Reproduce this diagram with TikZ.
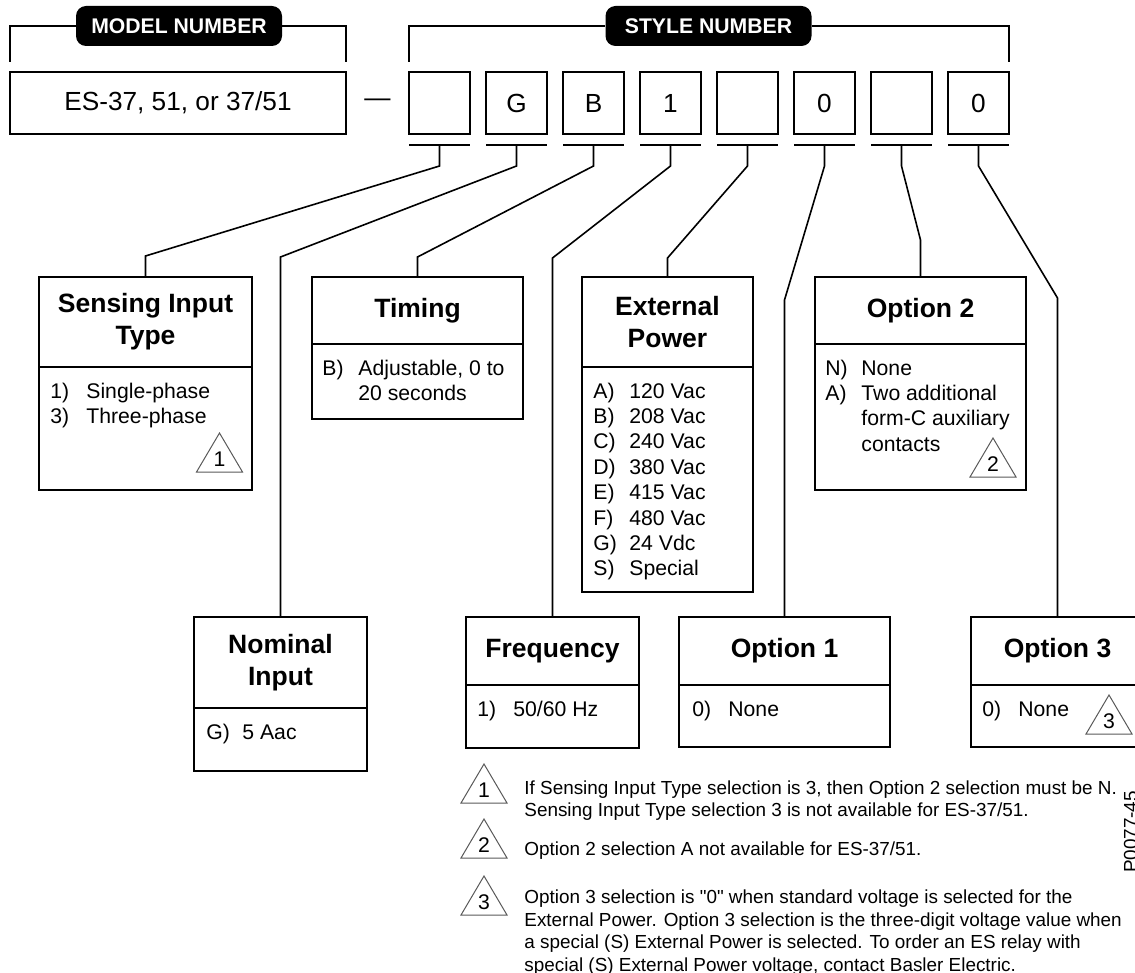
\documentclass[tikz,border=0pt]{standalone}
\usepackage{fontspec}
\setmainfont{Liberation Sans}
\newfontfamily\rawsans{Liberation Sans}[Ligatures=TeXOff]
\usetikzlibrary{positioning}

\newcommand{\ttlfont}{\fontsize{13.25pt}{16pt}\selectfont\bfseries}
\newcommand{\itmfont}{\fontsize{10.6pt}{12.7pt}\selectfont}
\newcommand{\digfont}{\fontsize{13.1pt}{15pt}\selectfont}
\newcommand{\pilfont}{\fontsize{10.6pt}{12pt}\selectfont\bfseries}
\newcommand{\notfont}{\fontsize{9.45pt}{11.25pt}\selectfont}
\newcommand{\items}[1]{\begin{tabular}[t]{@{}p{18pt}@{}l@{}}#1\end{tabular}}
\newcommand{\sq}{{\rawsans"}}

\tikzset{
  warn/.pic={
    \draw[line width=0.5pt, black!65] (-11.5pt,0) -- (0,19.5pt) -- (11.5pt,0) -- cycle;
    \node[font=\itmfont, inner sep=0] at (0,6.5pt) {#1};
  }
}

\begin{document}
\begin{tikzpicture}[x=0.5pt, y=-0.5pt,
  pill/.style={fill=black, text=white, rounded corners=5pt, minimum width=103pt, minimum height=20pt, font=\pilfont},
  numbox/.style={draw, line width=0.9pt, minimum width=168pt, minimum height=31pt, font=\digfont, outer sep=0},
  digit/.style={draw, line width=0.9pt, minimum width=30.5pt, minimum height=31pt, font=\digfont, outer sep=0},
  ttl/.style={draw, line width=0.9pt, align=center, font=\ttlfont, outer sep=0, anchor=north},
  bdy/.style={draw, line width=0.9pt, outer sep=0, anchor=north},
  lst/.style={anchor=base west, inner sep=0, font=\itmfont},
  wire/.style={line width=0.8pt},
  bar/.style={line width=1.1pt},
  note/.style={font=\notfont, align=left, inner sep=0, anchor=west}
]
\useasboundingbox (0,0) rectangle (1135,973);

% model number and style number boxes
\node[numbox] (model) at (178,103) {ES-37, 51, or 37/51};
\node[font=\digfont] (dash) at (377.5,103) {—};
\foreach \d [count=\k] in {{},G,B,1,{},0,{},0} {
  \node[digit] (c\k) at ({439.5+77*(\k-1)},103) {\d};
  \draw[bar] ([yshift=-5.5pt]c\k.south west) -- ([yshift=-5.5pt]c\k.south east);
}

% brackets
\node[pill] (mpill) at (179,26) {MODEL NUMBER};
\node[pill] (spill) at (708.5,26) {STYLE NUMBER};
\draw[wire] ([yshift=5pt]model.north west) |- (mpill);
\draw[wire] ([yshift=5pt]model.north east) |- (mpill);
\draw[wire] ([yshift=5pt]c1.north west) |- (spill);
\draw[wire] ([yshift=5pt]c8.north east) |- (spill);

% upper row
\node[ttl, minimum width=106.5pt, minimum height=45pt] (sens) at (145.5,277) {Sensing Input\\Type};
\node[bdy, minimum width=106.5pt, minimum height=61.5pt] (sensb) at (sens.south) {};
\node[lst] at ([shift={(5.5pt,-15.5pt)}]sensb.north west) {\items{1)&Single-phase\\3)&Three-phase}};

\node[ttl, minimum width=105.5pt, minimum height=33.5pt] (timg) at (417.5,277) {Timing};
\node[bdy, minimum width=105.5pt, minimum height=37.5pt] (timgb) at (timg.south) {};
\node[lst] at ([shift={(5pt,-15.5pt)}]timgb.north west) {\items{B)&Adjustable, 0 to\\&20 seconds}};

\node[ttl, minimum width=85.5pt, minimum height=45pt] (extp) at (667.5,277) {External\\Power};
\node[bdy, minimum width=85.5pt, minimum height=112.5pt] (extpb) at (extp.south) {};
\node[lst] at ([shift={(5.5pt,-15.5pt)}]extpb.north west) {\items{A)&120 Vac\\B)&208 Vac\\C)&240 Vac\\D)&380 Vac\\E)&415 Vac\\F)&480 Vac\\G)&24 Vdc\\S)&Special}};

\node[ttl, minimum width=105.5pt, minimum height=33.5pt] (opt2) at (920.5,277) {Option 2};
\node[bdy, minimum width=105.5pt, minimum height=73pt] (opt2b) at (opt2.south) {};
\node[lst] at ([shift={(5pt,-15.5pt)}]opt2b.north west) {\items{N)&None\\A)&Two additional\\&form-C auxiliary\\&contacts}};

% lower row
\node[ttl, minimum width=86.5pt, minimum height=45.5pt] (nomi) at (280.5,617) {Nominal\\Input};
\node[bdy, minimum width=86.5pt, minimum height=31.5pt] (nomib) at (nomi.south) {};
\node[lst] at ([shift={(6pt,-15.5pt)}]nomib.north west) {\items{G)&5 Aac}};

\node[ttl, minimum width=86.5pt, minimum height=34pt] (freq) at (552.5,617) {Frequency};
\node[bdy, minimum width=86.5pt, minimum height=31.5pt] (freqb) at (freq.south) {};
\node[lst] at ([shift={(5.5pt,-15.5pt)}]freqb.north west) {\items{1)&50/60 Hz}};

\node[ttl, minimum width=105.5pt, minimum height=34pt] (opt1) at (784.5,617) {Option 1};
\node[bdy, minimum width=105.5pt, minimum height=31pt] (opt1b) at (opt1.south) {};
\node[lst] at ([shift={(6.5pt,-15.5pt)}]opt1b.north west) {\items{0)&None}};

\node[ttl, minimum width=86.5pt, minimum height=34pt] (opt3) at (1057.5,617) {Option 3};
\node[bdy, minimum width=86.5pt, minimum height=31pt] (opt3b) at (opt3.south) {};
\node[lst] at ([shift={(5.5pt,-15.5pt)}]opt3b.north west) {\items{0)&None}};

% warning marks in boxes
\pic at (219.5,472) {warn=1};
\pic at (993,477) {warn=2};
\pic at (1109,734) {warn=3};

% leaders from the style digits
\foreach \k/\t/\h in {1/sens/10.5pt, 2/nomi/180pt, 3/timg/10pt, 4/freq/179.5pt,
                      5/extp/9.5pt, 6/opt1/158.5pt, 7/opt2/18.5pt, 8/opt3/159.5pt}
  \draw[wire] ([yshift=-5.5pt]c\k.south) -- ++(0,-10.5pt) -- ([yshift=\h]\t.north) -- (\t.north);

% notes
\pic at (484,803) {warn=1};
\pic at (484,858) {warn=2};
\pic at (484,915) {warn=3};
\node[note] (note1) at (524,800.5) {If Sensing Input Type selection is 3, then Option 2 selection must be N.\\Sensing Input Type selection 3 is not available for ES-37/51.};
\node[note] (note2) at (524,851) {Option 2 selection A not available for ES-37/51.};
\node[note] (note3) at (524,932.5) {Option 3 selection is \sq0\sq{} when standard voltage is selected for the\\External Power. Option 3 selection is the three-digit voltage value when\\a special (S) External Power is selected. To order an ES relay with\\special (S) External Power voltage, contact Basler Electric.};
\node[font=\notfont, rotate=90, anchor=base] (drw) at (1137,832) {P0077-45};
\end{tikzpicture}
\end{document}
